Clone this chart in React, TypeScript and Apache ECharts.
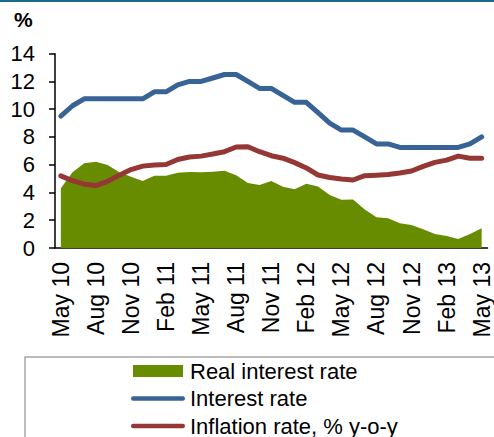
import React, { useEffect, useRef } from "react";
import * as echarts from "echarts";

const categories = [
  "May 10", "Jun 10", "Jul 10", "Aug 10", "Sep 10", "Oct 10", "Nov 10", "Dec 10",
  "Jan 11", "Feb 11", "Mar 11", "Apr 11", "May 11", "Jun 11", "Jul 11", "Aug 11",
  "Sep 11", "Oct 11", "Nov 11", "Dec 11", "Jan 12", "Feb 12", "Mar 12", "Apr 12",
  "May 12", "Jun 12", "Jul 12", "Aug 12", "Sep 12", "Oct 12", "Nov 12", "Dec 12",
  "Jan 13", "Feb 13", "Mar 13", "Apr 13", "May 13",
];

const realInterestRate = [
  4.3, 5.45, 6.1, 6.22, 5.98, 5.45, 5.14, 4.83, 5.2, 5.21, 5.43, 5.47, 5.45,
  5.5, 5.57, 5.24, 4.68, 4.54, 4.83, 4.42, 4.24, 4.63, 4.44, 3.82, 3.48, 3.5,
  2.78, 2.21, 2.14, 1.78, 1.66, 1.35, 1.01, 0.86, 0.65, 1.01, 1.42,
];

const interestRate = [
  9.5, 10.25, 10.75, 10.75, 10.75, 10.75, 10.75, 10.75, 11.25, 11.25, 11.75,
  12, 12, 12.25, 12.5, 12.5, 12, 11.5, 11.5, 11, 10.5, 10.5, 9.75, 9, 8.5, 8.5,
  8, 7.5, 7.5, 7.25, 7.25, 7.25, 7.25, 7.25, 7.25, 7.5, 8,
];

const inflationRate = [
  5.2, 4.85, 4.6, 4.5, 4.8, 5.25, 5.65, 5.9, 5.98, 6.02, 6.38, 6.56, 6.62,
  6.77, 6.94, 7.28, 7.3, 6.94, 6.65, 6.47, 6.15, 5.77, 5.26, 5.08, 4.97, 4.9,
  5.21, 5.25, 5.3, 5.4, 5.55, 5.88, 6.17, 6.33, 6.62, 6.47, 6.47,
];

const seriesNames = ["Real interest rate", "Interest rate", "Inflation rate, % y-o-y"];
const yMin = 0;
const yMax = 14;
const yInterval = 2;

const FONT = 'Arial, "Liberation Sans", sans-serif';
const GREEN = "#688C00";
const BLUE = "#386396";
const RED = "#953735";

const LINE_ICON = "path://M2.25,0 L51.75,0 A2.25,2.25 0 0 1 51.75,4.5 L2.25,4.5 A2.25,2.25 0 0 1 2.25,0 Z";
const RECT_ICON = "path://M0,0 L50,0 L50,12 L0,12 Z";

export default function App() {
  const ref = useRef<HTMLDivElement>(null);

  useEffect(() => {
    document.body.style.margin = "0";
    const chart = echarts.init(ref.current!, null, { renderer: "svg" });
    chart.setOption({
      animation: false,
      backgroundColor: "#ffffff",
      textStyle: { fontFamily: FONT },
      grid: { left: 55, right: 6.5, top: 53.7, bottom: 189, containLabel: false },
      graphic: [
        { type: "rect", left: 0, top: 0, shape: { width: 494, height: 2 }, style: { fill: "#1B6A88" } },
        {
          type: "text",
          left: 14,
          top: 9,
          style: { text: "%", fontSize: 21, fontWeight: "bold", fontFamily: FONT, fill: "#000" },
        },
        {
          type: "rect",
          shape: { x: 25, y: 357, width: 520, height: 120 },
          style: { fill: "none", stroke: "#A6A6A6", lineWidth: 1.5 },
          z: -1,
        },
      ],
      legend: {
        orient: "vertical",
        left: 131,
        top: 360,
        itemWidth: 54,
        itemHeight: 12,
        itemGap: 5.5,
        padding: 0,
        symbolKeepAspect: true,
        textStyle: { fontSize: 22, color: "#000", fontFamily: FONT, lineHeight: 22 },
        data: [
          { name: seriesNames[0], icon: RECT_ICON, itemStyle: { color: GREEN } },
          { name: seriesNames[1], icon: LINE_ICON, itemStyle: { color: BLUE }, lineStyle: { width: 0 } },
          { name: seriesNames[2], icon: LINE_ICON, itemStyle: { color: RED }, lineStyle: { width: 0 } },
        ],
      },
      xAxis: {
        type: "category",
        data: categories,
        boundaryGap: true,
        axisLine: { lineStyle: { color: "#000", width: 1.5 } },
        axisTick: { interval: 2, length: 6, lineStyle: { color: "#000", width: 1.5 } },
        axisLabel: {
          interval: 2,
          rotate: 90,
          margin: 14,
          fontSize: 23,
          color: "#000",
          fontFamily: FONT,
        },
        splitLine: { show: false },
      },
      yAxis: {
        type: "value",
        min: yMin,
        max: yMax,
        interval: yInterval,
        axisLine: { show: true, lineStyle: { color: "#000", width: 1.5 } },
        axisTick: { show: true, length: 6, lineStyle: { color: "#000", width: 1.5 } },
        axisLabel: { margin: 20, fontSize: 22, color: "#000", fontFamily: FONT },
        splitLine: { show: false },
      },
      series: [
        {
          name: seriesNames[0],
          type: "line",
          data: realInterestRate,
          symbol: "none",
          lineStyle: { width: 0 },
          itemStyle: { color: GREEN },
          areaStyle: { color: GREEN, opacity: 1 },
          z: 1,
        },
        {
          name: seriesNames[1],
          type: "line",
          data: interestRate,
          symbol: "none",
          itemStyle: { color: BLUE },
          lineStyle: { color: BLUE, width: 5, cap: "round", join: "round" },
          z: 3,
        },
        {
          name: seriesNames[2],
          type: "line",
          data: inflationRate,
          symbol: "none",
          itemStyle: { color: RED },
          lineStyle: { color: RED, width: 5, cap: "round", join: "round" },
          z: 2,
        },
      ],
    });
    return () => chart.dispose();
  }, []);

  return <div ref={ref} style={{ width: 494, height: 437 }} />;
}
